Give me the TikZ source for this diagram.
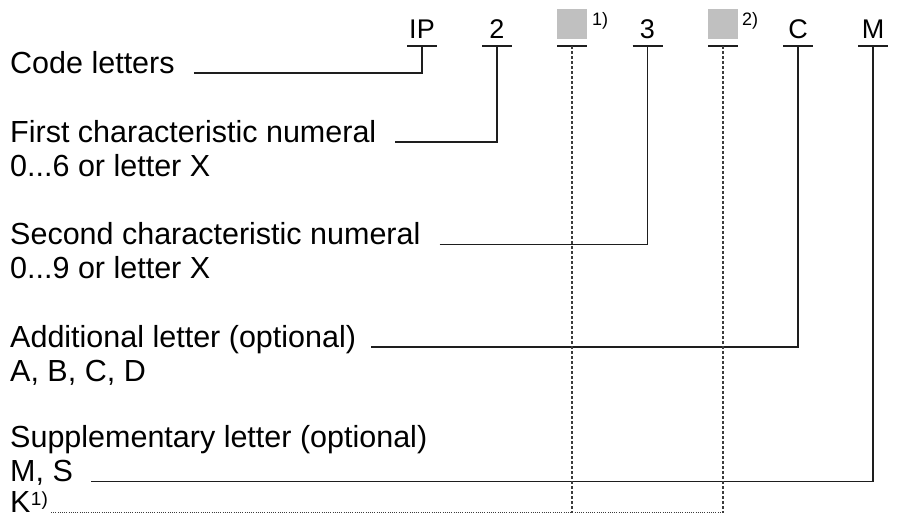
\documentclass[tikz,border=0pt]{standalone}
\usepackage{fontspec}
\setmainfont{Liberation Sans}
\definecolor{linec}{HTML}{1E1E1E}
\definecolor{dashc}{HTML}{3C3C3C}
\definecolor{sqgray}{HTML}{C0C0C0}
\begin{document}
\begin{tikzpicture}[x=1pt,y=-1pt,
  lbl/.style={anchor=base west,inner sep=0pt,font=\fontsize{30.5}{34}\selectfont},
  toplbl/.style={anchor=base,inner sep=0pt,font=\fontsize{27}{30}\selectfont},
  suplbl/.style={anchor=base west,inner sep=0pt,font=\fontsize{18}{20}\selectfont},
  conn/.style={draw=linec,line width=1.2pt},
  dashconn/.style={draw=dashc,line width=1.1pt,dash pattern=on 3pt off 2pt},
  dotconn/.style={draw=dashc,line width=1pt,dash pattern=on 1pt off 1.2pt},
  sqbox/.style={fill=sqgray,minimum size=30pt,inner sep=0pt,anchor=south}]
\useasboundingbox (0,0) rectangle (906,517);
% top code row
\node[toplbl] (ip) at (422,38.5) {IP};
\node[toplbl] (n2) at (497,38.5) {2};
\node[sqbox] (sq1) at (572,39) {};
\node[suplbl] (f1) at (592,25) {1)};
\node[toplbl] (n3) at (647.5,38.5) {3};
\node[sqbox] (sq2) at (723,39) {};
\node[suplbl] (f2) at (742,25) {2)};
\node[toplbl] (lc) at (798,38.5) {C};
\node[toplbl] (lm) at (873,38.5) {M};
% bar centres
\coordinate (bIP) at (422,46);
\coordinate (b2) at (497,46);
\coordinate (bS1) at (572,46);
\coordinate (b3) at (647.5,46);
\coordinate (bS2) at (723,46);
\coordinate (bC) at (798,46);
\coordinate (bM) at (873,46);
\foreach \b in {bIP,b2,bS1,b3,bS2,bC,bM}
  \draw[conn] ([xshift=-15pt]\b) -- ([xshift=15pt]\b);
% left labels
\node[lbl] (code) at (10,73) {Code letters};
\node[lbl] (first) at (10,142) {First characteristic numeral};
\node[lbl] (first2) at (10,176) {0...6 or letter X};
\node[lbl] (second) at (10,244.5) {Second characteristic numeral};
\node[lbl] (second2) at (10,278.5) {0...9 or letter X};
\node[lbl] (add) at (10,347) {Additional letter (optional)};
\node[lbl] (add2) at (10,381) {A, B, C, D};
\node[lbl] (supp) at (10,447) {Supplementary letter (optional)};
\node[lbl] (supp2) at (10,481.5) {M, S};
\node[lbl] (supp3) at (10,512.5) {K};
\node[suplbl,font=\fontsize{19}{20}\selectfont] (ksup) at (supp3.base east) [yshift=7pt] {1)};
\coordinate (kend) at (723,512.5);
% connectors
\draw[conn] ([xshift=19pt]code.base east) -| (bIP);
\draw[conn] ([xshift=19pt]first.base east) -| (b2);
\draw[conn] ([xshift=19pt]second.base east) -| (b3);
\draw[conn] ([xshift=15pt]add.base east) -| (bC);
\draw[conn] ([xshift=18pt]supp2.base east) -| (bM);
\draw[dashconn] (bS1) -- (bS1 |- kend);
\draw[dashconn] (bS2) -- (kend);
\draw[dotconn] ([xshift=3pt]ksup.east |- supp3.base) -- (kend);
\end{tikzpicture}
\end{document}
